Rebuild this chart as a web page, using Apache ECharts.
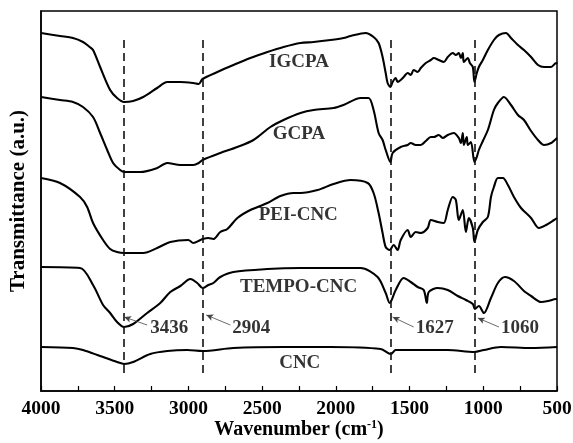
<!DOCTYPE html>
<html>
<head>
<meta charset="utf-8">
<script src="https://cdn.jsdelivr.net/npm/echarts@6/dist/echarts.min.js"></script>
<style>html,body{margin:0;padding:0;background:#fff;}#c{width:573px;height:443px;}</style>
</head>
<body>
<div id="c"></div>
<script>
// Wavenumber (cm-1), offset transmittance (a.u.)
const IGCPA = [[4000,358],[3871,355],[3783,353],[3715,349],[3670,344],[3647,341],[3599,324],[3531,301],[3484,293],[3436,289],[3375,290],[3307,294],[3212,303],[3144,309],[3055,309],[2967,308],[2930,307],[2904,312],[2804,319],[2695,326],[2580,333],[2464,339],[2355,344],[2240,348],[2151,349],[2036,351],[1948,353],[1900,355],[1798,358],[1744,354],[1710,348],[1683,334],[1662,318],[1649,308],[1630,304],[1615,309],[1594,313],[1581,309],[1560,311],[1540,314],[1513,318],[1492,316],[1472,321],[1445,319],[1424,323],[1390,328],[1356,331],[1336,333],[1302,331],[1268,329],[1241,334],[1207,338],[1186,336],[1166,338],[1152,333],[1139,338],[1132,329],[1105,333],[1091,328],[1071,324],[1060,309],[1044,318],[1030,324],[1003,331],[969,341],[928,351],[894,356],[846,358],[812,353],[765,346],[724,341],[676,334],[629,326],[588,324],[540,324],[506,328],[500,327]];
const GCPA = [[4000,294],[3871,291],[3783,289],[3715,284],[3647,274],[3599,258],[3551,241],[3511,228],[3463,221],[3436,219],[3327,219],[3212,223],[3144,228],[3055,226],[2967,226],[2930,228],[2904,231],[2784,238],[2668,244],[2559,251],[2444,264],[2355,271],[2240,278],[2151,281],[2016,283],[1948,286],[1832,293],[1778,293],[1744,281],[1710,258],[1683,251],[1662,241],[1630,229],[1615,238],[1560,244],[1513,246],[1492,248],[1458,246],[1424,246],[1390,250],[1356,254],[1336,254],[1302,256],[1275,253],[1241,256],[1200,258],[1166,253],[1152,248],[1139,258],[1132,246],[1112,254],[1105,246],[1084,249],[1060,229],[1044,234],[1030,241],[1003,250],[969,261],[928,281],[901,288],[860,294],[812,286],[765,276],[724,271],[676,260],[629,251],[588,246],[540,248],[500,253]];
const PEI_CNC = [[4000,213],[3871,208],[3735,194],[3687,184],[3647,168],[3579,151],[3531,142],[3484,139],[3436,138],[3307,138],[3212,143],[3123,149],[3001,151],[2967,148],[2919,151],[2904,152],[2865,153],[2831,152],[2784,159],[2736,162],[2668,173],[2580,181],[2464,188],[2376,195],[2287,198],[2240,198],[2124,201],[2016,207],[1900,211],[1784,208],[1744,198],[1710,178],[1683,158],[1662,144],[1635,141],[1608,146],[1581,141],[1560,151],[1513,161],[1492,154],[1458,159],[1424,158],[1377,163],[1356,171],[1309,169],[1268,168],[1241,181],[1207,194],[1186,191],[1166,171],[1139,181],[1118,159],[1098,173],[1071,163],[1060,149],[1037,161],[1003,169],[969,174],[948,194],[928,204],[901,213],[867,213],[833,206],[792,194],[744,183],[676,173],[622,163],[574,166],[520,171],[500,173]];
const TEMPO_CNC = [[4000,124],[3735,123],[3647,106],[3579,86],[3531,78],[3484,69],[3436,64],[3375,67],[3280,78],[3191,88],[3123,99],[3055,105],[2987,112],[2940,108],[2904,103],[2865,106],[2831,108],[2784,114],[2695,119],[2464,122],[2240,123],[2016,123],[1832,123],[1717,114],[1662,98],[1635,88],[1594,101],[1540,113],[1492,109],[1445,104],[1404,101],[1383,88],[1370,99],[1309,103],[1241,101],[1173,95],[1118,91],[1071,87],[1057,82],[1030,85],[996,78],[948,93],[901,108],[853,114],[792,110],[724,100],[676,95],[608,89],[561,90],[506,92],[500,92]];
const CNC = [[4000,44],[3783,43],[3715,41],[3599,35],[3484,29],[3436,27],[3375,29],[3259,37],[3144,40],[3008,41],[2904,40],[2695,43],[2355,44],[2036,44],[1696,42],[1627,37],[1594,41],[1472,41],[1241,41],[1060,39],[996,41],[880,44],[676,43],[500,44]];

const seriesNames = ['IGCPA','GCPA','PEI-CNC','TEMPO-CNC','CNC'];
const seriesData = [IGCPA, GCPA, PEI_CNC, TEMPO_CNC, CNC];
// curve label anchor (wavenumber, value)
const labelX = [2250, 2250, 2255, 2253, 2245];
const labelY = [329, 257, 176, 104, 28];

const peaks = [3436, 2904, 1627, 1060];
const peakLabels = ['3436', '2904', '1627', '1060'];
// arrow tail / head positions
const arrowTail = [[3280,66],[2716,66],[1472,64],[894,64]];
const arrowHead = [[3436,74],[2879,76],[1615,74],[1037,73]];
const peakTextPos = [[3259,63],[2702,63],[1458,63],[880,63]];
const dashYRange = [18, 351];

const xTicks = [500, 1000, 1500, 2000, 2500, 3000, 3500, 4000];

const FONT = 'Liberation Serif';
const chart = echarts.init(document.getElementById('c'), null, {renderer: 'canvas'});

const series = seriesData.map((d, i) => ({
  type: 'line', name: seriesNames[i], data: d, symbol: 'none', smooth: 0.3,
  lineStyle: {color: '#000', width: 2.1}, z: 3
}));

const markData = [];
peaks.forEach(p => {
  markData.push([
    {coord: [p, dashYRange[0]], symbol: 'none', lineStyle: {type: [8, 5], width: 1.6, color: '#111'}},
    {coord: [p, dashYRange[1]], symbol: 'none'}
  ]);
});
arrowTail.forEach((t, i) => {
  markData.push([
    {coord: t, symbol: 'none', lineStyle: {type: 'solid', width: 0.8, color: '#444'}},
    {coord: arrowHead[i], symbol: 'arrow', symbolSize: [5, 7]}
  ]);
});

series.push({
  type: 'scatter', name: 'curveLabels', symbolSize: 0, silent: true,
  data: seriesNames.map((n, i) => ({value: [labelX[i], labelY[i]], name: n})),
  label: {show: true, position: 'inside', formatter: p => p.name, fontFamily: FONT, fontWeight: 'bold', fontSize: 19, color: '#000'},
  markLine: {silent: true, animation: false, symbol: ['none', 'none'], label: {show: false}, data: markData},
  z: 4
});
series.push({
  type: 'scatter', name: 'peakLabels', symbolSize: 0, silent: true,
  data: peakLabels.map((n, i) => ({value: peakTextPos[i], name: n})),
  label: {show: true, position: 'right', distance: 0, formatter: p => p.name, fontFamily: FONT, fontWeight: 'bold', fontSize: 19, color: '#000'},
  z: 4
});

chart.setOption({
  animation: false,
  backgroundColor: '#fff',
  grid: {left: 41, right: 16, top: 11, bottom: 52, containLabel: false, outerBoundsMode: 'none', show: true, borderColor: '#000', borderWidth: 1.5, backgroundColor: 'transparent'},
  xAxis: {
    type: 'value', min: 500, max: 4000, interval: 250, inverse: true,
    axisLine: {show: true, lineStyle: {color: '#000', width: 1.5}},
    axisTick: {show: true, inside: true, length: 5, lineStyle: {color: '#000', width: 1.2}},
    splitLine: {show: false},
    axisLabel: {
      margin: 8, color: '#000', fontFamily: FONT, fontWeight: 'bold', fontSize: 19.5,
      formatter: v => xTicks.indexOf(v) >= 0 ? String(v) : ''
    },
    name: 'Wavenumber (cm{sup|-1})', nameLocation: 'middle', nameGap: 28, nameMoveOverlap: false,
    nameTextStyle: {
      color: '#000', fontFamily: FONT, fontWeight: 'bold', fontSize: 20,
      rich: {sup: {fontFamily: FONT, fontWeight: 'bold', fontSize: 12, color: '#000', padding: [0, 0, 10, 0]}}
    }
  },
  yAxis: {
    type: 'value', min: 0, max: 380,
    axisLine: {show: true, lineStyle: {color: '#000', width: 1.5}},
    axisTick: {show: false}, axisLabel: {show: false}, splitLine: {show: false},
    name: 'Transmittance (a.u.)', nameLocation: 'middle', nameGap: 12, nameRotate: 90, nameMoveOverlap: false,
    nameTextStyle: {color: '#000', fontFamily: FONT, fontWeight: 'bold', fontSize: 21}
  },
  series: series
});
</script>
</body>
</html>
